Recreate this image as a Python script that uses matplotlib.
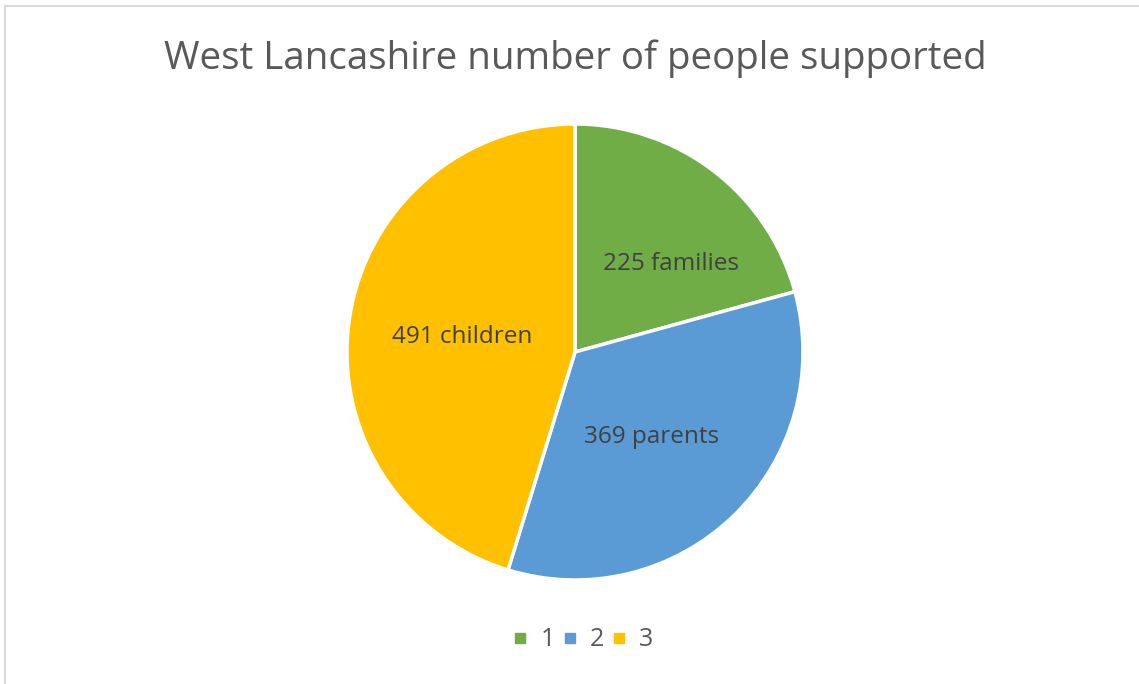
import numpy as np
import matplotlib.pyplot as plt
from matplotlib.lines import Line2D

title = "West Lancashire number of people supported"
categories = ["1", "2", "3"]
values = [225, 369, 491]
labels = ["225 families", "369 parents", "491 children"]
colors = ["#70AD47", "#5B9BD5", "#FFC000"]

plt.rcParams['font.family'] = ['Open Sans', 'DejaVu Sans']

W, H = 1139, 684
fig = plt.figure(figsize=(W / 100, H / 100), dpi=100)

# pie centre and radius in pixels
cx, cy, r = 575, 352, 228
ax = fig.add_axes([(cx - r) / W, (H - cy - r) / H, 2 * r / W, 2 * r / H])

wedges, _ = ax.pie(values, colors=colors, startangle=90, counterclock=False,
                   wedgeprops=dict(edgecolor="white", linewidth=2.5))
ax.set_xlim(-1, 1)
ax.set_ylim(-1, 1)

# labels inside the wedges
dist = [0.57, 0.5, 0.5]
shift = [-10, -2, 1]
for w, lab, d, s in zip(wedges, labels, dist, shift):
    ang = np.deg2rad((w.theta1 + w.theta2) / 2 + s)
    ax.text(d * np.cos(ang), d * np.sin(ang), lab, ha="center", va="center",
            fontsize=17.5, color="#404040")

fig.text(cx / W, 1 - 59 / H, title, ha="center", va="center",
         fontsize=27.7, color="#595959")

handles = [plt.Line2D([], [], marker="s", linestyle="", markersize=7,
                      markerfacecolor=c, markeredgecolor=c) for c in colors]
fig.legend(handles, categories, loc="center", bbox_to_anchor=(cx / W + 0.006, 1 - 640 / H),
           ncol=3, frameon=False, fontsize=18, handlelength=0.8, handletextpad=0.4,
           columnspacing=0.2, labelcolor="#595959")

# chart border (top and left visible)
fig.add_artist(Line2D([5 / W, 1], [1 - 6 / H, 1 - 6 / H], color="#d9d9d9", lw=1.5))
fig.add_artist(Line2D([5 / W, 5 / W], [0, 1 - 6 / H], color="#d9d9d9", lw=1.5))

fig.savefig("out.png", dpi=100)
